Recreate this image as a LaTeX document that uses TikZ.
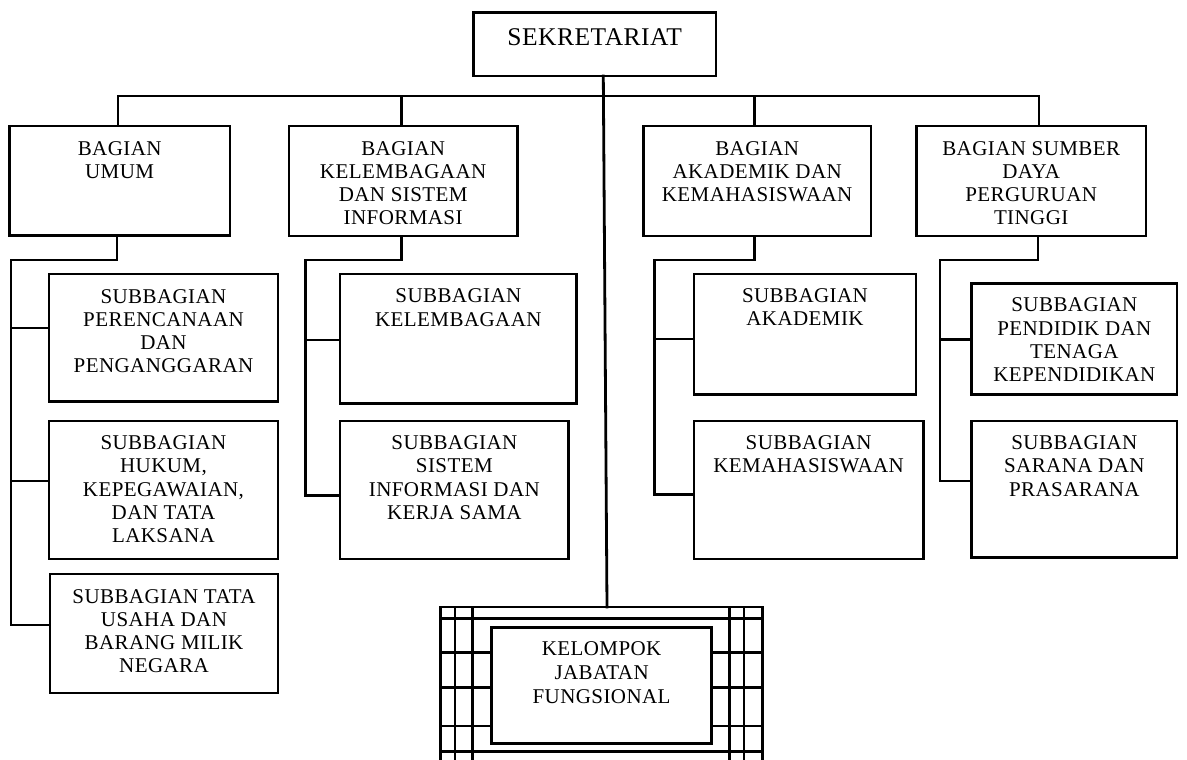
\documentclass[tikz,border=0pt]{standalone}
\usepackage{fontspec}
\setmainfont{Liberation Serif}[LetterSpace=2]
\newcommand{\bx}[4]{\begin{minipage}[t][#2pt][t]{#1pt}\centering\rule{0pt}{#3pt}#4\end{minipage}}
\tikzset{
  box/.style={draw, line width=2.9pt, inner sep=0pt, outer sep=0pt, anchor=north west,
    font=\fontsize{21}{23.3}\selectfont},
  ln/.style={draw, line width=2.8pt, line join=miter, line cap=rect}
}
\begin{document}
\begin{tikzpicture}[x=1pt,y=-1pt]
\useasboundingbox (0,0) rectangle (1187,760);
% top
\node[box, font=\fontsize{25.5}{28}\selectfont] (sek) at (473.3,12.7) {\bx{242.7}{63.3}{33}{SEKRETARIAT}};
% bagian
\node[box] (b1) at (9.3,126) {\bx{220.7}{109.5}{29}{BAGIAN\\UMUM}};
\node[box] (b2) at (289,126) {\bx{228.3}{110}{29}{BAGIAN\\KELEMBAGAAN\\DAN SISTEM\\INFORMASI}};
\node[box] (b3) at (643.3,126) {\bx{227.7}{110}{29}{BAGIAN\\AKADEMIK DAN\\KEMAHASISWAAN}};
\node[box] (b4) at (916.4,126) {\bx{229.6}{110}{29}{BAGIAN SUMBER\\DAYA\\PERGURUAN\\TINGGI}};
% subbagian
\node[box] (s11) at (49,274) {\bx{229}{127.7}{29}{SUBBAGIAN\\PERENCANAAN\\DAN\\PENGANGGARAN}};
\node[box] (s12) at (49,421) {\bx{229}{138}{28.5}{SUBBAGIAN\\HUKUM,\\KEPEGAWAIAN,\\DAN TATA\\LAKSANA}};
\node[box] (s13) at (50,574) {\bx{228}{119}{29}{SUBBAGIAN TATA\\USAHA DAN\\BARANG MILIK\\NEGARA}};
\node[box] (s21) at (340,274) {\bx{236.7}{129.3}{28.7}{SUBBAGIAN\\KELEMBAGAAN}};
\node[box] (s22) at (340,421) {\bx{228.7}{138}{28.5}{SUBBAGIAN\\SISTEM\\INFORMASI DAN\\KERJA SAMA}};
\node[box] (s31) at (694,274) {\bx{222}{120.3}{28.5}{SUBBAGIAN\\AKADEMIK}};
\node[box] (s32) at (694,421) {\bx{229.3}{138}{28.5}{SUBBAGIAN\\KEMAHASISWAAN}};
\node[box] (s41) at (971.7,283.3) {\bx{205.3}{111}{28.5}{SUBBAGIAN\\PENDIDIK DAN\\TENAGA\\KEPENDIDIKAN}};
\node[box] (s42) at (971.7,421) {\bx{205.3}{136.3}{28.5}{SUBBAGIAN\\SARANA DAN\\PRASARANA}};
% kelompok jabatan fungsional
\node[box, font=\fontsize{21}{24}\selectfont] (kjf) at (491.5,627.7) {\bx{220.2}{115.6}{27.3}{KELOMPOK\\JABATAN\\FUNGSIONAL}};
% grid around kjf
\coordinate (kjftop) at (607,607);
\foreach \x in {440.7,455,472.7,729.3,744,762.3} \draw[ln] (\x,607) -- (\x,765);
\foreach \y in {607,618.3,751.7} \draw[ln] (440.7,\y) -- (762.3,\y);
\foreach \y in {652.7,687.7,726} {
  \draw[ln] (440.7,\y) -- (kjf.west |- 0,\y);
  \draw[ln] (kjf.east |- 0,\y) -- (762.3,\y);
}
% main bus
\coordinate (busL) at (118,96);
\coordinate (busR) at (1039,96);
\draw[ln] (busL) -- (busR);
\draw[ln] (sek.south -| 603.3,0) -- (kjftop);
\draw[ln] (busL) -- (b1.north -| busL);
\draw[ln] (401.7,96) -- (b2.north -| 401.7,0);
\draw[ln] (754.3,96) -- (b3.north -| 754.3,0);
\draw[ln] (busR) -- (b4.north -| busR);
% column 1
\draw[ln] (b1.south -| 117,0) -- (117,260) -- (11,260) -- (11,625) -- (s13.west |- 0,625);
\draw[ln] (11,328) -- (s11.west |- 0,328);
\draw[ln] (11,481) -- (s12.west |- 0,481);
% column 2
\draw[ln] (b2.south -| 401.7,0) -- (401.7,260) -- (305.7,260) -- (305.7,495.7) -- (s22.west |- 0,495.7);
\draw[ln] (305.7,340) -- (s21.west |- 0,340);
% column 3
\draw[ln] (b3.south -| 754.3,0) -- (754.3,260) -- (654.3,260) -- (654.3,494.3) -- (s32.west |- 0,494.3);
\draw[ln] (654.3,339) -- (s31.west |- 0,339);
% column 4
\draw[ln] (b4.south -| 1038,0) -- (1038,260) -- (940,260) -- (940,481) -- (s42.west |- 0,481);
\draw[ln] (940,339.3) -- (s41.west |- 0,339.3);
\end{tikzpicture}
\end{document}
